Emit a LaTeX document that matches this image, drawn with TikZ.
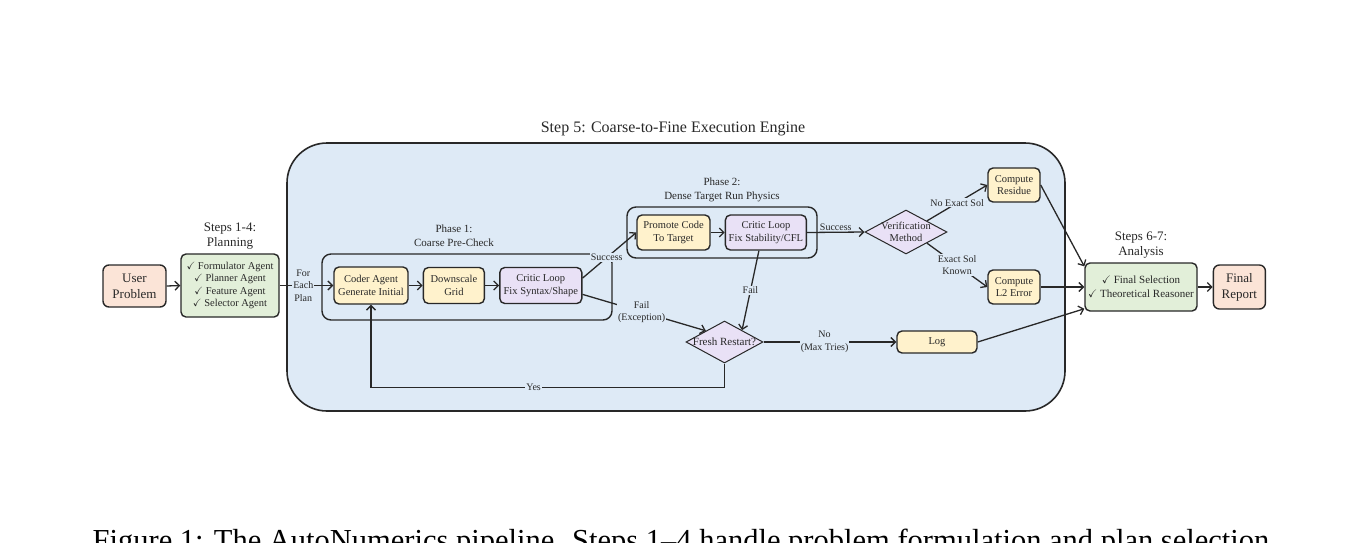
\documentclass[tikz,border=0pt]{standalone}
\usepackage{amsmath,amssymb}
\usepackage{fontspec}
\setmainfont{Liberation Serif}
\usepackage{tikz}
\usetikzlibrary{positioning,shapes.geometric,arrows.meta}
\definecolor{engBlue}{RGB}{222,234,246}
\definecolor{inPeach}{RGB}{251,228,215}
\definecolor{agGreen}{RGB}{226,239,217}
\definecolor{stYellow}{RGB}{255,242,204}
\definecolor{crPurple}{RGB}{233,225,246}
\definecolor{edgeGray}{RGB}{40,40,40}
\definecolor{txtGray}{RGB}{40,40,40}
\tikzset{
  ibox/.style={rectangle,draw=edgeGray,fill=#1,line width=1.4pt,
    rounded corners=5pt,align=center,inner sep=1pt,text=txtGray,
    font=\fontsize{10.5}{12.5}\selectfont},
  ibox/.default=stYellow,
  bigbox/.style={ibox=#1,rounded corners=6pt,font=\fontsize{13}{16}\selectfont},
  phaseframe/.style={rectangle,draw=edgeGray,line width=1.4pt,rounded corners=9pt},
  decision/.style={diamond,draw=edgeGray,fill=crPurple,line width=1pt,inner sep=0pt},
  arrow/.style={-{Straight Barb[length=4.5pt,width=9pt]},draw=edgeGray,line width=1.3pt},
  note/.style={font=\fontsize{10}{12.5}\selectfont,text=txtGray,fill=engBlue,
    inner sep=1pt,align=center},
  stephead/.style={font=\fontsize{13}{15}\selectfont,text=txtGray,align=center,inner sep=1pt},
  phasehead/.style={font=\fontsize{11}{14}\selectfont,text=txtGray,align=center,inner sep=1pt}
}

\begin{document}
\begin{tikzpicture}[x=1pt,y=-1pt]
  \useasboundingbox (0,0) rectangle (1368,542);
  % step 5 container
  \node[rectangle,draw=edgeGray,fill=engBlue,line width=1.6pt,rounded corners=40pt,
    minimum width=778pt,minimum height=268pt] (engine) at (676,277) {};
  \node[stephead,font=\fontsize{16}{18}\selectfont] (enginehead) at (673,129)
    {Step 5: Coarse-to-Fine Execution Engine};

  % input and planning
  \node[bigbox=inPeach,minimum width=63pt,minimum height=42pt] (user) at (134.5,286)
    {User\\Problem};
  \node[ibox=agGreen,minimum width=98pt,minimum height=63pt] (plan) at (230,285.5)
    {$\checkmark$ Formulator Agent\\$\checkmark$ Planner Agent\\
     $\checkmark$ Feature Agent\\$\checkmark$ Selector Agent};
  \node[stephead,above=3pt of plan] (planhead) {Steps 1-4:\\Planning};

  % phase 1
  \node[phaseframe,minimum width=290pt,minimum height=66pt] (phaseA) at (467,287) {};
  \node[phasehead] (phaseAhead) at (454,236) {Phase 1:\\Coarse Pre-Check};
  \node[ibox,minimum width=74pt,minimum height=37pt] (coder) at (371,285.5)
    {Coder Agent\\Generate Initial};
  \node[ibox,minimum width=61pt,minimum height=36pt,right=14pt of coder] (down)
    {Downscale\\Grid};
  \node[ibox=crPurple,minimum width=82pt,minimum height=36pt,right=14pt of down] (criticA)
    {Critic Loop\\Fix Syntax/Shape};

  % phase 2
  \node[phaseframe,minimum width=190pt,minimum height=51pt] (phaseB) at (722,232.5) {};
  \node[phasehead,above=3pt of phaseB] (phaseBhead) {Phase 2:\\Dense Target Run Physics};
  \node[ibox,minimum width=73pt,minimum height=35pt] (promote) at (673.5,232.5)
    {Promote Code\\To Target};
  \node[ibox=crPurple,minimum width=81pt,minimum height=35pt,right=14pt of promote] (criticB)
    {Critic Loop\\Fix Stability/CFL};

  % verification
  \node[decision,minimum width=82pt,minimum height=44pt,
    label={[align=center,text=txtGray,font=\fontsize{10.5}{12.5}\selectfont]center:Verification\\Method}]
    (verify) at (906,232) {};
  \node[ibox,minimum width=52pt,minimum height=34pt] (residue) at (1014,185)
    {Compute\\Residue};
  \node[ibox,minimum width=52pt,minimum height=34pt] (ltwo) at (1014,287)
    {Compute\\L2 Error};

  % restart
  \node[decision,minimum width=77pt,minimum height=42pt,
    label={[text=txtGray,font=\fontsize{11}{13}\selectfont]center:Fresh Restart?}]
    (restart) at (724.5,342) {};
  \node[ibox,minimum width=80pt,minimum height=22pt] (log) at (937,342) {Log};

  % analysis
  \node[ibox=agGreen,minimum width=112pt,minimum height=48pt,
    font=\fontsize{11}{14}\selectfont] (analysis) at (1141,287)
    {$\checkmark$ Final Selection\\$\checkmark$ Theoretical Reasoner};
  \node[stephead,above=3pt of analysis] (analysishead) {Steps 6-7:\\Analysis};
  \node[bigbox=inPeach,minimum width=52pt,minimum height=44pt,right=15pt of analysis] (report)
    {Final\\Report};

  \draw[arrow] (user.east) -- (plan.west);
  \draw[arrow] (plan.east) -- node[note,pos=0.44] {For\\Each\\Plan} (coder.west);
  \draw[arrow] (coder) -- (down);
  \draw[arrow] (down) -- (criticA);
  \draw[arrow] (criticA.10) -- node[note,pos=0.45] {Success} (promote.west);
  \draw[arrow] (criticA.-12) -- node[note,pos=0.48] {Fail\\(Exception)} (restart.149);
  \draw[arrow] (promote) -- (criticB);
  \draw[arrow] (criticB.east) -- node[note,above=0pt,fill=none] {Success} (verify.west);
  \draw[arrow] ([xshift=-7pt]criticB.south) -- node[note] {Fail} (restart.34);
  \draw[arrow] (verify.28) -- node[note] {No Exact Sol} (residue.west);
  \draw[arrow] (verify.-28) -- node[note] {Exact Sol\\Known} (ltwo.west);
  \draw[arrow] (restart.east) -- node[note,pos=0.46] {No\\(Max Tries)} (log.west);
  \draw[arrow] (restart.south) -- ++(0,24) -| node[note,pos=0.27] {Yes} (coder.south);
  \draw[arrow] (residue.east) -- (analysis.160);
  \draw[arrow] (ltwo.east) -- (analysis.west);
  \draw[arrow] (log.east) -- (analysis.201);
  \draw[arrow] (analysis) -- (report);

  % caption, cut by the page edge
  \node[anchor=base,inner sep=0pt,font=\fontsize{30.5}{33}\selectfont] (caption) at (681,550)
    {Figure 1: The AutoNumerics pipeline. Steps 1--4 handle problem formulation and plan selection};
\end{tikzpicture}
\end{document}
